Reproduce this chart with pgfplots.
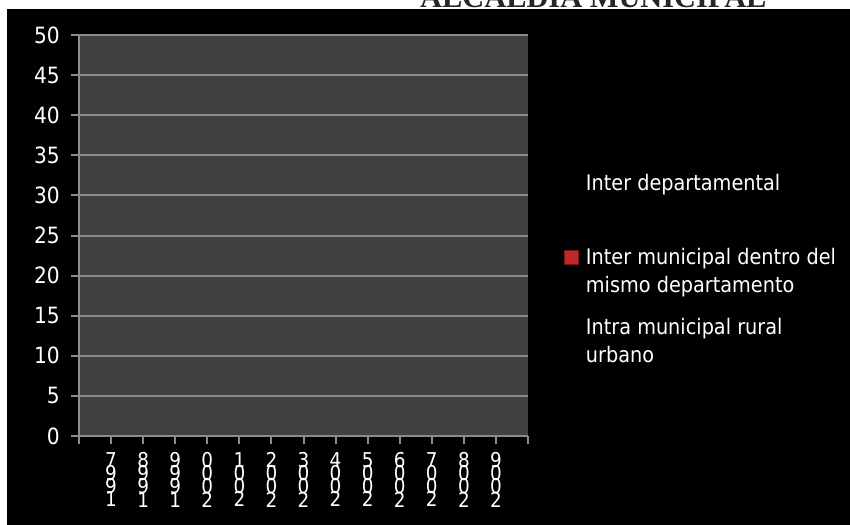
\documentclass[border=0pt]{standalone}
\usepackage{pgfplots}
\pgfplotsset{compat=1.18}
\usepackage{fontspec}
\newfontfamily\dvsc{DejaVu Sans Condensed}
\newfontfamily\lserif{Liberation Serif}
\definecolor{plotbg}{HTML}{404040}
\definecolor{gridc}{HTML}{8C8C8C}
\definecolor{mk}{HTML}{C0282A}
\newcommand\cb[1]{\hbox to 14bp{\hss#1\hss}}
\newcommand\vs[4]{\vbox{\baselineskip=13.3bp\lineskiplimit=-100bp\lineskip=0pt\cb{#1}\cb{#2}\cb{#3}\cb{#4}}}
\begin{document}
\begin{tikzpicture}
\fill[white] (0bp,0bp) rectangle (850bp,525bp);
\fill[black] (7bp,0bp) rectangle (850bp,516bp);
\begin{scope}
\clip (0bp,0bp) rectangle (850bp,525bp);
\node[anchor=base west, inner sep=0pt, text=black!85, font=\lserif\bfseries\fontsize{30.5}{32}\selectfont] at (420bp,517bp) {ALCALDIA MUNICIPAL};
\end{scope}
\begin{axis}[
  at={(79bp,89bp)}, anchor=south west,
  scale only axis, width=449bp, height=401bp,
  xmin=0, xmax=14, ymin=0, ymax=50,
  ytick={0,5,...,50},
  xtick={0,...,14},
  xticklabels={,{\vs7991},{\vs8991},{\vs9991},{\vs0002},{\vs1002},{\vs2002},{\vs3002},{\vs4002},{\vs5002},{\vs6002},{\vs7002},{\vs8002},{\vs9002},},
  axis background/.style={fill=plotbg},
  axis x line*=bottom, axis y line*=left,
  axis line style={gridc, line width=2bp},
  tick style={gridc, line width=2bp},
  major tick length=8bp, tick align=outside,
  ymajorgrids,
  major grid style={gridc, line width=2bp},
  /pgf/number format/assume math mode=true,
  yticklabel style={font=\dvsc\fontsize{22.5}{26}\selectfont, text=white, inner sep=0pt, xshift=-11bp},
  xticklabel style={font=\dvsc\fontsize{20.5}{24}\selectfont, text=white, inner sep=0pt, yshift=-8bp},
  legend image code/.code={\draw[only marks,#1] plot coordinates {(7bp,0bp)};},
  legend cell align=left,
  legend style={draw=none, fill=none, text=white, at={(1.0806,0.6575)}, anchor=north west,
    font=\dvsc\fontsize{21.5}{28}\selectfont, row sep=20bp, column sep=6bp, inner sep=0pt,
    cells={align=left}},
]
\addlegendimage{only marks, mark=none}
\addlegendentry{Inter departamental\\[4bp]\mbox{}}
\addlegendimage{only marks, mark=square*, mark size=6.8bp, mark options={fill=mk, draw=mk!60!black, yshift=14bp}}
\addlegendentry{Inter municipal dentro del\\mismo departamento}
\addlegendimage{only marks, mark=none}
\addlegendentry{Intra municipal rural\\urbano}
\end{axis}
\pgfresetboundingbox
\useasboundingbox (0bp,0bp) rectangle (850bp,525bp);
\end{tikzpicture}
\end{document}
